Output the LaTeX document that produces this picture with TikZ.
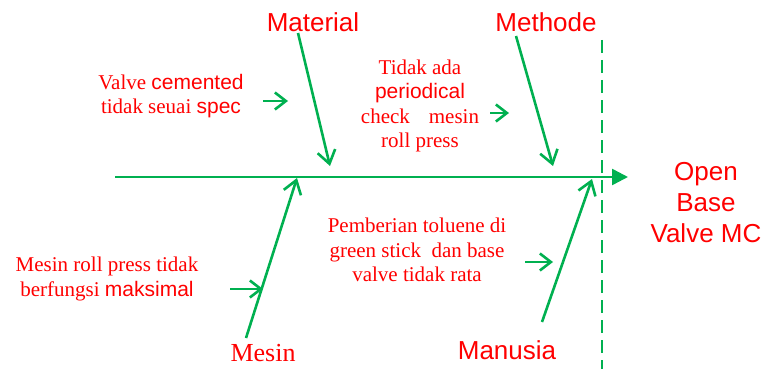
\documentclass[tikz,border=0pt]{standalone}
\usepackage{fontspec}
\setmainfont{Liberation Serif}
\setsansfont{Liberation Sans}
\usetikzlibrary{arrows.meta}
\definecolor{fgreen}{RGB}{0,176,80}
\definecolor{fred}{RGB}{255,0,0}
\begin{document}
\begin{tikzpicture}[x=1pt,y=-1pt,
  bone/.style={draw=fgreen,line width=2.6pt,-{Straight Barb[length=13pt,width=18pt,line width=2.6pt]}},
  causearrow/.style={draw=fgreen,line width=2.6pt,-{Straight Barb[length=11pt,width=17pt,line width=2.6pt]}},
  spine/.style={draw=fgreen,line width=2.6pt,-{Triangle[length=16pt,width=16pt]}},
  cat/.style={text=fred,font=\sffamily\fontsize{26}{30}\selectfont,inner sep=0pt},
  cause/.style={text=fred,font=\rmfamily\fontsize{21}{24.3}\selectfont,align=center,inner sep=0pt},
  effect/.style={text=fred,font=\sffamily\fontsize{26}{31}\selectfont,align=center,inner sep=0pt}]
\useasboundingbox (0,0) rectangle (766,369);
% spine
\coordinate (tail) at (115,177);
\coordinate (head) at (628,177);
\draw[spine] (tail) -- (head);
% dashed line
\coordinate (d1) at (602,40);
\coordinate (d2) at (602,369);
\draw[draw=fgreen,line width=2pt,dash pattern=on 13pt off 7pt] (d1) -- (d2);
% bones
\coordinate (mat0) at (298,33);
\coordinate (mat1) at (330,166);
\coordinate (met0) at (516,36);
\coordinate (met1) at (553,166);
\coordinate (mes0) at (246,338);
\coordinate (mes1) at (297,178);
\coordinate (man0) at (542,322);
\coordinate (man1) at (592,179);
\draw[bone] (mat0) -- (mat1);
\draw[bone] (met0) -- (met1);
\draw[bone] (mes0) -- (mes1);
\draw[bone] (man0) -- (man1);
% small arrows
\coordinate (a1s) at (263,101);
\coordinate (a1e) at (288,101);
\coordinate (a2s) at (490,113);
\coordinate (a2e) at (509,113);
\coordinate (a3s) at (230,289);
\coordinate (a3e) at (263,289);
\coordinate (a4s) at (525,262);
\coordinate (a4e) at (553,262);
\draw[causearrow] (a1s) -- (a1e);
\draw[causearrow] (a2s) -- (a2e);
\draw[causearrow] (a3s) -- (a3e);
\draw[causearrow] (a4s) -- (a4e);
% category labels
\node[cat] (material) at (313,22) {Material};
\node[cat] (methode) at (546,22) {Methode};
\node[cat,font=\rmfamily\fontsize{26}{30}\selectfont,text depth=0pt,anchor=base] (mesin) at (263,361) {Mesin};
\node[cat] (manusia) at (507,350) {Manusia};
\node[effect] (effect) at (706,203) {Open\\Base\\Valve MC};
% causes
\node[cause] (c1) at (171,96) {Valve \textsf{cemented}\\tidak seuai \textsf{spec}};
\node[cause] (c2) at (420,106) {Tidak ada\\\textsf{periodical}\\check\hspace{0.9em}mesin\\roll press};
\node[cause] (c3) at (107,279) {Mesin roll press tidak\\berfungsi \textsf{maksimal}};
\node[cause] (c4) at (417,250) {Pemberian toluene di\\green stick\ \ dan base\\valve tidak rata};
\end{tikzpicture}
\end{document}
